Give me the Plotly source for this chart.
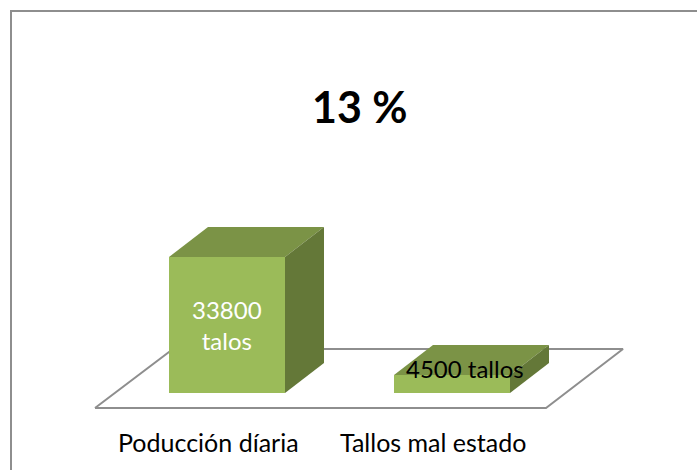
import plotly.graph_objects as go

categories = ["Poducción díaria", "Tallos mal estado"]
values = [33800, 4500]
bar_labels = ["33800<br>talos", "4500 tallos"]
label_colors = ["#ffffff", "#000000"]
title_text = "13 %"

W, H = 697, 470
X0_PX, X_STEP_PX = 227.0, 225.0      # pixel centre of first category, spacing
Y0_PX = 393.0                         # pixel of value zero
PX_PER_UNIT = 136.0 / 33800.0
HALF_W_PX, DX_PX, DY_PX = 58.0, 39.0, 30.0
FRONT, TOP, SIDE = "#9BBB59", "#7B9346", "#647838"
GRID = "#8E8E8E"
FONT = "Lato"


def ux(px):
    return px / X_STEP_PX


def uy(px):
    return px / PX_PER_UNIT


fig = go.Figure()

# floor of the 3-D chart
floor_x = [-0.5 - ux(19.5), 1.5 - ux(18.5), 1.5 + ux(58.5), -0.5 + ux(58.5), -0.5 - ux(19.5)]
floor_y = [-uy(15), -uy(15), uy(44), uy(44), -uy(15)]
fig.add_trace(go.Scatter(x=floor_x, y=floor_y, mode="lines", fill="toself", fillcolor="#ffffff",
                         line=dict(color=GRID, width=2), hoverinfo="skip", showlegend=False))


def poly(xs, ys, color):
    fig.add_trace(go.Scatter(x=xs, y=ys, mode="lines", fill="toself", fillcolor=color,
                             line=dict(color=color, width=0), hoverinfo="skip", showlegend=False))


for i, v in enumerate(values):
    l, r = i - ux(HALF_W_PX), i + ux(HALF_W_PX)
    dx, dy = ux(DX_PX), uy(DY_PX)
    poly([l, r, r, l, l], [0, 0, v, v, 0], FRONT)
    poly([l, r, r + dx, l + dx, l], [v, v, v + dy, v + dy, v], TOP)
    poly([r, r + dx, r + dx, r, r], [0, dy, v + dy, v, 0], SIDE)

annotations = []
for i, (c, v) in enumerate(zip(categories, values)):
    annotations.append(dict(x=i - ux(19), y=-uy(49), text=c, showarrow=False, xref="x", yref="y",
                            xanchor="center", yanchor="middle",
                            font=dict(family=FONT, size=25, color="#000000")))

annotations.append(dict(x=0, y=values[0] / 2, text=bar_labels[0], showarrow=False,
                        xanchor="center", yanchor="middle",
                        font=dict(family=FONT, size=24, color=label_colors[0])))
annotations.append(dict(x=1 + ux(13), y=values[1] + uy(6), text=bar_labels[1], showarrow=False,
                        xanchor="center", yanchor="middle",
                        font=dict(family=FONT, size=24, color=label_colors[1])))
annotations.append(dict(x=360 / W, y=1 - 106 / H, xref="paper", yref="paper", text="<b>" + title_text + "</b>",
                        showarrow=False, xanchor="center", yanchor="middle",
                        font=dict(family=FONT, size=43, color="#000000")))

fig.update_layout(
    width=W, height=H, margin=dict(l=0, r=0, t=0, b=0, pad=0, autoexpand=False),
    paper_bgcolor="#ffffff", plot_bgcolor="#ffffff", showlegend=False,
    xaxis=dict(range=[(0 - X0_PX) / X_STEP_PX, (W - X0_PX) / X_STEP_PX], visible=False, fixedrange=True),
    yaxis=dict(range=[-(H - Y0_PX) / PX_PER_UNIT, Y0_PX / PX_PER_UNIT], visible=False, fixedrange=True),
    annotations=annotations,
    shapes=[
        dict(type="line", xref="paper", yref="paper", x0=11 / W, x1=1, y0=1 - 11 / H, y1=1 - 11 / H,
             line=dict(color=GRID, width=2)),
        dict(type="line", xref="paper", yref="paper", x0=11 / W, x1=11 / W, y0=0, y1=1 - 10 / H,
             line=dict(color=GRID, width=2)),
    ],
)

fig.write_html("out.html", config=dict(displayModeBar=False, responsive=False),
               post_script="document.body.style.margin='0';")
